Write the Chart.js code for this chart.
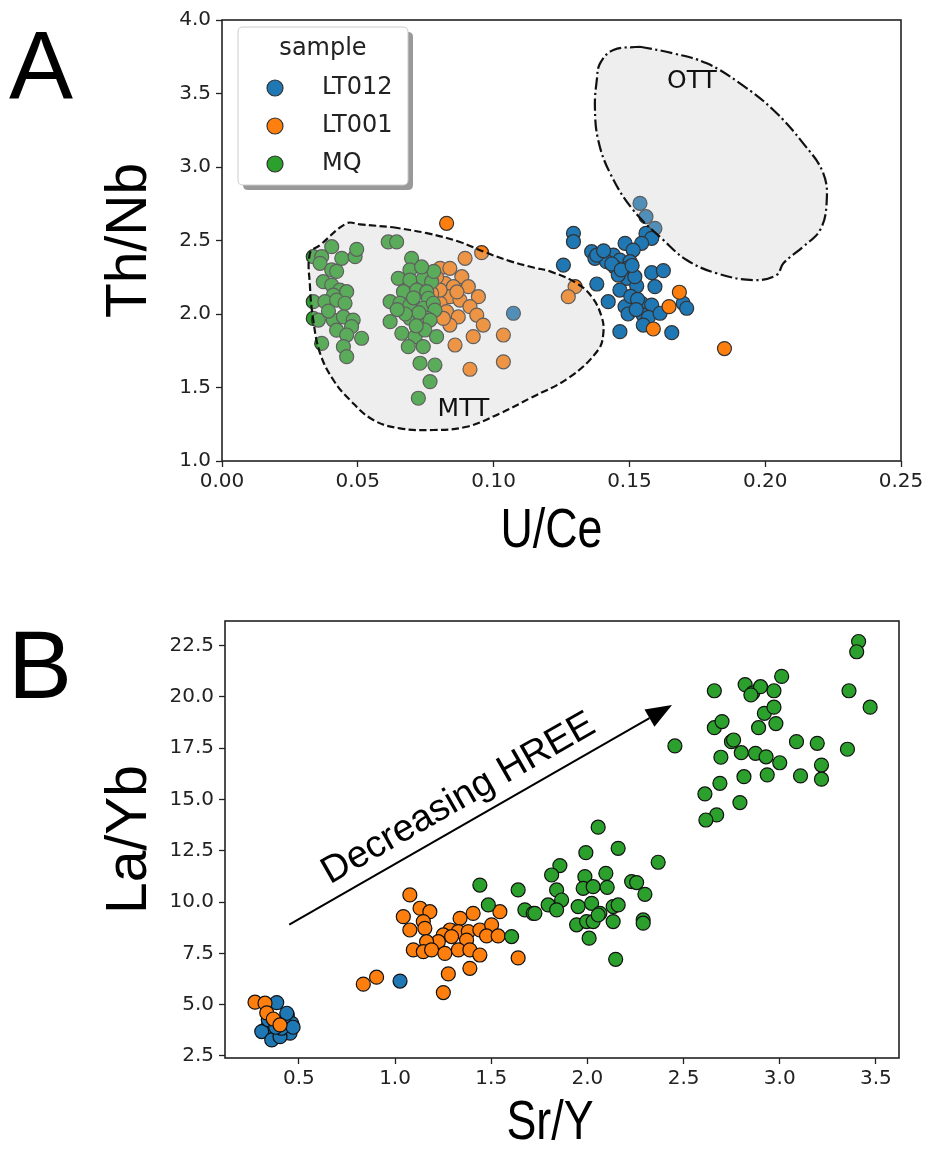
<!DOCTYPE html>
<html><head><meta charset="utf-8">
<script src="https://cdn.jsdelivr.net/npm/chart.js@4.4.1/dist/chart.umd.min.js"></script>
<style>
html,body{margin:0;padding:0;background:#fff;width:927px;height:1158px;overflow:hidden;}
.panel{position:absolute;left:0;}
.lbl{position:absolute;font-family:'Liberation Sans',Arial,sans-serif;font-size:96px;color:#000;line-height:1;}
</style></head><body>
<div class="lbl" style="left:9px;top:17px;">A</div>
<div class="lbl" style="left:8px;top:617px;">B</div>
<div class="panel" style="top:0;"><canvas id="cA" width="927" height="570"></canvas></div>
<div class="panel" style="top:570px;"><canvas id="cB" width="927" height="588"></canvas></div>
<script>
// ---------- tick labels ----------
const xTicksA=[0,0.05,0.10,0.15,0.20,0.25];
const yTicksA=[1.0,1.5,2.0,2.5,3.0,3.5,4.0];
const xTicksB=[0.5,1.0,1.5,2.0,2.5,3.0,3.5];
const yTicksB=[2.5,5.0,7.5,10.0,12.5,15.0,17.5,20.0,22.5];
const seriesNames=['LT012','LT001','MQ'];
const legendTitle='sample';

// ---------- panel A: U/Ce vs Th/Nb ----------
const lt012A=[[0.1539,2.753],[0.1561,2.662],[0.1594,2.583],[0.1561,2.549],[0.1582,2.515],[0.1545,2.481],[0.1294,2.549],[0.1294,2.492],[0.1484,2.481],[0.1514,2.435],[0.1361,2.424],[0.1373,2.379],[0.1441,2.401],[0.1416,2.356],[0.1465,2.367],[0.1502,2.356],[0.1447,2.318],[0.149,2.311],[0.1257,2.333],[0.1582,2.281],[0.1625,2.295],[0.138,2.204],[0.149,2.243],[0.1527,2.19],[0.1465,2.163],[0.1594,2.186],[0.1422,2.084],[0.1484,2.05],[0.1545,2.073],[0.1582,2.061],[0.1551,1.993],[0.157,1.977],[0.1613,2.005],[0.1698,2.073],[0.1711,2.039],[0.1551,1.925],[0.1465,1.88],[0.1656,1.873],[0.138,2.40],[0.1459,2.265],[0.152,2.254],[0.1435,2.34],[0.147,2.30],[0.151,2.33],[0.1505,2.12],[0.153,2.10],[0.1495,2.00],[0.1525,2.03],[0.1405,2.43],[0.1073,2.005]];
const lt001A=[[0.0827,2.617],[0.0956,2.417],[0.0895,2.379],[0.0803,2.311],[0.0839,2.311],[0.0883,2.254],[0.0821,2.209],[0.0852,2.186],[0.0907,2.186],[0.0944,2.118],[0.0839,2.118],[0.0803,2.073],[0.0876,2.095],[0.0913,2.05],[0.0827,2.016],[0.087,1.98],[0.0938,1.993],[0.0962,1.925],[0.0839,1.925],[0.0925,1.846],[0.0858,1.789],[0.1036,1.857],[0.1036,1.675],[0.0913,1.624],[0.0803,2.163],[0.0772,2.14],[0.0865,2.15],[0.0815,1.97],[0.079,2.25],[0.13,2.186],[0.1275,2.118],[0.1684,2.148],[0.1646,2.05],[0.1588,1.898],[0.185,1.765]];
const mqA=[[0.0336,2.39],[0.0367,2.39],[0.0404,2.458],[0.0441,2.379],[0.049,2.39],[0.0496,2.44],[0.0361,2.345],[0.0404,2.30],[0.0422,2.29],[0.0373,2.22],[0.0404,2.197],[0.0434,2.163],[0.0459,2.152],[0.041,2.129],[0.0336,2.084],[0.0379,2.084],[0.0422,2.095],[0.0453,2.073],[0.0336,1.97],[0.0355,1.959],[0.041,1.959],[0.0447,1.98],[0.0483,1.959],[0.0477,1.914],[0.0422,1.89],[0.0459,1.857],[0.0514,1.835],[0.0367,1.80],[0.0447,1.778],[0.0459,1.71],[0.0392,2.02],
[0.0612,2.49],[0.0643,2.49],[0.0698,2.379],[0.0692,2.30],[0.0649,2.243],[0.0692,2.231],[0.0741,2.243],[0.0772,2.22],[0.0668,2.152],[0.0717,2.163],[0.0754,2.152],[0.076,2.107],[0.0619,2.084],[0.0655,2.073],[0.0692,2.061],[0.0741,2.039],[0.0778,2.073],[0.0784,2.027],[0.0692,1.971],[0.0754,1.971],[0.0766,1.959],[0.0619,1.948],[0.0662,1.869],[0.0711,1.846],[0.0747,1.891],[0.079,1.846],[0.0686,1.778],[0.0741,1.778],[0.0729,1.665],[0.0784,1.653],[0.0766,1.54],[0.0723,1.427],[0.0705,2.11],[0.0725,2.01],[0.0675,2.0],[0.0715,1.92],[0.0645,2.03],[0.078,2.29],[0.0735,2.32]];
const mttOutline=[[0.063,2.59],[0.0754,2.55],[0.0876,2.49],[0.0962,2.425],[0.106,2.36],[0.115,2.315],[0.1208,2.29],[0.1306,2.209],[0.1361,2.118],[0.1398,1.98],[0.1404,1.869],[0.1385,1.755],[0.128,1.57],[0.1134,1.427],[0.1024,1.324],[0.0901,1.233],[0.0778,1.211],[0.0655,1.222],[0.0557,1.279],[0.0471,1.415],[0.041,1.551],[0.0361,1.733],[0.0336,1.959],[0.0324,2.186],[0.0324,2.413],[0.0361,2.469],[0.0459,2.617],[0.0508,2.61],[0.063,2.59]];
const ottOutline=[[0.1539,3.818],[0.1662,3.773],[0.1785,3.705],[0.1907,3.569],[0.203,3.388],[0.214,3.161],[0.2214,2.957],[0.2226,2.753],[0.2202,2.571],[0.214,2.458],[0.2067,2.345],[0.2042,2.265],[0.1956,2.231],[0.1821,2.277],[0.1711,2.367],[0.1625,2.503],[0.1514,2.707],[0.1429,2.957],[0.1385,3.184],[0.1373,3.41],[0.138,3.592],[0.1392,3.705],[0.1441,3.796],[0.1539,3.818]];
const regionNames=['MTT','OTT'];
const regionLabelAt=[[0.0889,1.352],[0.173,3.58]];

// ---------- panel B: Sr/Y vs La/Yb ----------
const lt012B=[[0.385,5.10],[0.44,4.50],[0.463,4.09],[0.324,3.77],[0.454,3.61],[0.35,3.6],[0.385,3.44],[0.307,3.69],[0.359,3.28],[0.402,3.44],[0.341,4.26],[0.437,4.58],[0.41,3.85],[0.38,3.9],[0.47,3.9],[1.026,6.15]];
const lt001B=[[0.272,5.12],[0.324,5.07],[0.333,4.6],[0.367,4.3],[0.402,4.01],[1.077,10.35],[1.13,9.70],[1.181,9.53],[1.043,9.29],[1.147,9.05],[1.077,8.64],[1.155,8.72],[1.406,9.45],[1.338,9.21],[1.545,9.53],[1.286,8.64],[1.251,8.40],[1.329,8.56],[1.381,8.56],[1.441,8.64],[1.502,8.89],[1.476,8.35],[1.536,8.35],[1.294,8.32],[1.372,8.15],[1.225,8.07],[1.164,8.07],[1.095,7.67],[1.147,7.58],[1.19,7.67],[1.259,7.50],[1.329,7.67],[1.389,7.67],[1.441,7.42],[1.64,7.28],[1.277,6.50],[1.389,6.77],[0.904,6.34],[0.835,6.0],[1.251,5.59]];
const mqB=[[1.441,10.83],[1.64,10.59],[1.485,9.86],[1.675,9.62],[1.718,9.45],[1.606,8.32],
[2.056,13.65],[1.992,12.41],[2.16,12.62],[2.368,11.94],[1.857,11.78],[1.814,11.32],[1.987,11.24],[2.096,11.40],[1.84,10.59],[1.978,10.67],[2.03,10.75],[2.103,10.72],[2.23,11.0],[2.256,10.95],[2.299,10.38],[1.796,9.86],[1.866,10.10],[1.84,9.62],[1.952,9.78],[2.022,9.94],[2.065,9.45],[2.134,9.78],[2.16,9.86],[1.944,8.89],[1.996,9.05],[2.03,9.05],[2.056,9.37],[2.134,9.05],[2.29,9.13],[2.29,8.97],[2.009,8.24],[2.147,7.21],[1.727,9.45],
[2.455,17.61],[2.694,17.06],[2.8,17.28],[2.874,17.25],[2.929,17.08],[3.0,16.79],[3.087,17.82],[3.195,17.74],[3.352,17.45],[3.217,16.68],[3.217,15.99],[3.108,16.15],[2.935,16.2],[2.814,16.11],[2.689,15.79],[2.611,15.27],[2.793,14.85],[2.672,14.25],[2.616,14.0],[2.749,17.82],
[3.41,22.7],[3.40,22.2],[3.36,20.3],[3.47,19.5],[2.66,20.3],[2.82,20.6],[2.86,20.2],[2.90,20.5],[2.97,20.3],[3.01,21.0],[2.92,19.2],[2.97,19.5],[2.98,18.7],[2.89,18.5],[2.66,18.5],[2.70,18.8],[2.76,17.9],[2.85,20.1]];
const arrowB=[[0.45,8.9],[2.44,19.6]];
const arrowLabel='Decreasing HREE';

// ---------- helpers ----------
const COLORS=['#1f77b4','#ff7f0e','#2ca02c'];
const toXY=a=>a.map(p=>({x:p[0],y:p[1]}));
const TICKFONT={family:'DejaVu Sans',size:20};
const TITLEFONT={family:'Liberation Sans',size:57};

function axis(min,max,ticks,dec,title,isX,size,titlePad){
  return {
    type:'linear',min:min,max:max,position:isX?'bottom':'left',
    afterBuildTicks:s=>{s.ticks=ticks.map(v=>({value:v}));},
    afterFit:s=>{ if(isX) s.height=size; else s.width=size; },
    ticks:{callback:v=>Number(v).toFixed(dec),font:TICKFONT,color:'#222',padding:isX?3:5,autoSkip:false,maxRotation:0,minRotation:0},
    grid:{drawOnChartArea:false,drawTicks:true,tickLength:6,tickColor:'#222',tickWidth:1.3},
    border:{display:false},
    title:{display:!isX,text:title,font:TITLEFONT,color:'#000',padding:{top:titlePad,bottom:0}}
  };
}
// horizontal axis title, drawn slightly condensed like the original figure
function xTitlePlugin(text,baseline,dx){
  return {id:'xt'+text.replace(/\W/g,''),afterDraw(chart){
    const a=chart.chartArea,ctx=chart.ctx;ctx.save();
    ctx.translate((a.left+a.right)/2+dx,baseline);ctx.scale(0.8,1);
    ctx.font='56px "Liberation Sans"';ctx.fillStyle='#000';ctx.textAlign='center';ctx.textBaseline='alphabetic';
    ctx.fillText(text,0,0);ctx.restore();}};
}
function scatterSet(name,data,idx,edge){
  return {label:name,data:toXY(data),backgroundColor:COLORS[idx],borderColor:edge,borderWidth:1.2,
    pointRadius:7,pointHoverRadius:7,order:3-idx};
}
const framePlugin={id:'frame',afterDraw(chart){
  const a=chart.chartArea,ctx=chart.ctx;ctx.save();ctx.strokeStyle='#222';ctx.lineWidth=1.6;
  ctx.strokeRect(a.left,a.top,a.right-a.left,a.bottom-a.top);ctx.restore();}};

// ---------- chart A ----------
const regionLabelsPlugin={id:'regLabels',afterDatasetsDraw(chart){
  const ctx=chart.ctx,xs=chart.scales.x,ys=chart.scales.y;ctx.save();
  ctx.font='25px "DejaVu Sans"';ctx.fillStyle='#111';ctx.textAlign='center';ctx.textBaseline='middle';
  regionNames.forEach((n,i)=>ctx.fillText(n,xs.getPixelForValue(regionLabelAt[i][0]),ys.getPixelForValue(regionLabelAt[i][1])));
  ctx.restore();}};
function rr(ctx,x,y,w,h,r){ctx.beginPath();ctx.moveTo(x+r,y);ctx.lineTo(x+w-r,y);ctx.quadraticCurveTo(x+w,y,x+w,y+r);ctx.lineTo(x+w,y+h-r);ctx.quadraticCurveTo(x+w,y+h,x+w-r,y+h);ctx.lineTo(x+r,y+h);ctx.quadraticCurveTo(x,y+h,x,y+h-r);ctx.lineTo(x,y+r);ctx.quadraticCurveTo(x,y,x+r,y);ctx.closePath();}
const legendPlugin={id:'legA',afterDraw(chart){
  const ctx=chart.ctx,a=chart.chartArea;const x0=a.left+16,y0=a.top+7,w=170,h=158;
  ctx.save();
  ctx.fillStyle='rgba(0,0,0,0.4)';rr(ctx,x0+5,y0+5,w,h,5);ctx.fill();
  ctx.fillStyle='#ffffff';rr(ctx,x0,y0,w,h,5);ctx.fill();ctx.strokeStyle='#cccccc';ctx.lineWidth=1;ctx.stroke();
  ctx.font='24px "DejaVu Sans"';ctx.fillStyle='#222';ctx.textAlign='center';ctx.textBaseline='middle';
  ctx.fillText(legendTitle,x0+85,y0+22);
  seriesNames.forEach((n,i)=>{const cy=y0+61+i*38;ctx.beginPath();ctx.arc(x0+37,cy,8,0,Math.PI*2);
    ctx.fillStyle=COLORS[i];ctx.fill();ctx.strokeStyle='#333';ctx.lineWidth=1.2;ctx.stroke();
    ctx.fillStyle='#222';ctx.textAlign='left';ctx.fillText(n,x0+84,cy);});
  ctx.restore();}};

new Chart(document.getElementById('cA'),{
  type:'scatter',
  data:{datasets:[
    scatterSet(seriesNames[0],lt012A,0,'#333'),
    scatterSet(seriesNames[1],lt001A,1,'#333'),
    scatterSet(seriesNames[2],mqA,2,'#333'),
    {label:regionNames[0],data:toXY(mttOutline),showLine:true,fill:'shape',backgroundColor:'rgba(200,200,200,0.3)',
     borderColor:'#111',borderWidth:2.2,borderDash:[7.4,3.4],pointRadius:0,pointHoverRadius:0,tension:0.4,order:0},
    {label:regionNames[1],data:toXY(ottOutline),showLine:true,fill:'shape',backgroundColor:'rgba(200,200,200,0.3)',
     borderColor:'#111',borderWidth:2.2,borderDash:[12,3.4,2.2,3.4],pointRadius:0,pointHoverRadius:0,tension:0.4,order:0}
  ]},
  options:{responsive:false,animation:false,devicePixelRatio:1,
    layout:{padding:{left:0,top:20,right:26,bottom:0}},
    plugins:{legend:{display:false},tooltip:{enabled:false}},
    scales:{x:axis(0,0.25,xTicksA,2,'U/Ce',true,109,0),y:axis(1,4,yTicksA,1,'Th/Nb',false,222,96)}},
  plugins:[regionLabelsPlugin,framePlugin,legendPlugin,xTitlePlugin('U/Ce',547,-10)]
});

// ---------- chart B ----------
const arrowPlugin={id:'arrowB',afterDatasetsDraw(chart){
  const ctx=chart.ctx,xs=chart.scales.x,ys=chart.scales.y;
  const x1=xs.getPixelForValue(arrowB[0][0]),y1=ys.getPixelForValue(arrowB[0][1]);
  const x2=xs.getPixelForValue(arrowB[1][0]),y2=ys.getPixelForValue(arrowB[1][1]);
  const ang=Math.atan2(y2-y1,x2-x1),c=Math.cos(ang),s=Math.sin(ang);
  const hl=26,hw=10;
  ctx.save();ctx.strokeStyle='#000';ctx.fillStyle='#000';ctx.lineWidth=2;
  ctx.beginPath();ctx.moveTo(x1,y1);ctx.lineTo(x2-hl*c,y2-hl*s);ctx.stroke();
  ctx.beginPath();ctx.moveTo(x2,y2);ctx.lineTo(x2-hl*c-hw*s,y2-hl*s+hw*c);ctx.lineTo(x2-hl*c+hw*s,y2-hl*s-hw*c);ctx.closePath();ctx.fill();
  const t=0.475,off=25;
  const tx=x1+(x2-x1)*t+off*s,ty=y1+(y2-y1)*t-off*c;
  ctx.translate(tx,ty);ctx.rotate(ang);
  ctx.font='38px "Liberation Sans"';ctx.textAlign='center';ctx.textBaseline='middle';ctx.fillText(arrowLabel,0,0);
  ctx.restore();}};

new Chart(document.getElementById('cB'),{
  type:'scatter',
  data:{datasets:[
    scatterSet(seriesNames[0],lt012B,0,'#111'),
    scatterSet(seriesNames[1],lt001B,1,'#111'),
    scatterSet(seriesNames[2],mqB,2,'#111')
  ]},
  options:{responsive:false,animation:false,devicePixelRatio:1,
    layout:{padding:{left:0,top:51,right:28,bottom:0}},
    plugins:{legend:{display:false},tooltip:{enabled:false}},
    scales:{x:axis(0.116,3.62,xTicksB,1,'Sr/Y',true,100,0),y:axis(2.4,23.7,yTicksB,1,'La/Yb',false,225,96)}},
  plugins:[arrowPlugin,framePlugin,xTitlePlugin('Sr/Y',569,-12)]
});
</script>
</body></html>
